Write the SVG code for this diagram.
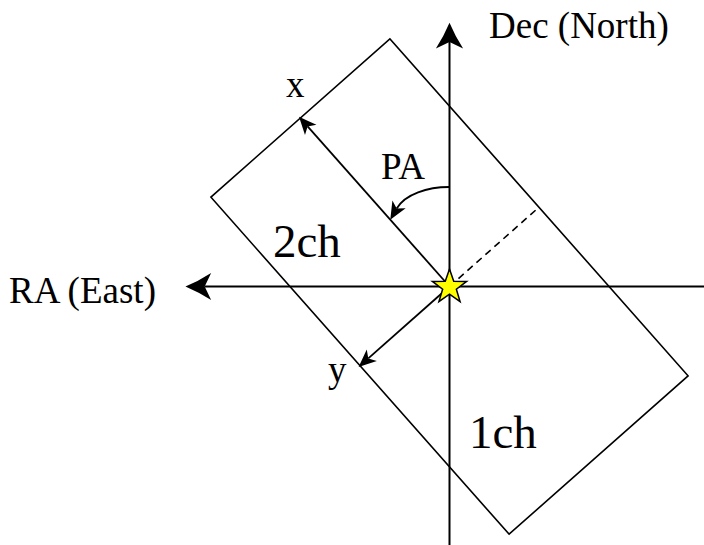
<svg xmlns="http://www.w3.org/2000/svg" width="704" height="545" viewBox="0 0 704 545">
<style>
text{font-family:"Liberation Serif","Times New Roman",serif;fill:#000}
.lbl{font-size:37px}
.ch{font-size:47px}
.ax{stroke:#000;stroke-width:2;fill:none}
.ar{stroke:#000;stroke-width:1.8;fill:none}
</style>
<defs>
<marker id="big" markerUnits="userSpaceOnUse" markerWidth="30" markerHeight="30" viewBox="-1 -14 27 28" refX="6" refY="0" orient="auto" overflow="visible">
<path d="M24,0 Q12,-5 0,-12.7 L6,0 L0,12.7 Q12,5 24,0 Z" fill="#000"/>
</marker>
<marker id="sm" markerUnits="userSpaceOnUse" markerWidth="20" markerHeight="20" viewBox="-1 -8 17 16" refX="4" refY="0" orient="auto" overflow="visible">
<path d="M15,0 Q8,-3 0,-6.5 L4,0 L0,6.5 Q8,3 15,0 Z" fill="#000"/>
</marker>
</defs>
<g id="frame">
<rect x="330" y="61.5" width="239" height="450" transform="rotate(-41.5 449.5 286.5)" fill="none" stroke="#000" stroke-width="1.6"/>
</g>
<g id="connectors">
<line class="ax" x1="449.5" y1="545" x2="449.5" y2="42" marker-end="url(#big)"/>
<line class="ax" x1="704" y1="286.5" x2="204.7" y2="286.5" marker-end="url(#big)"/>
<line class="ar" x1="449.5" y1="286.5" x2="307.6" y2="126.4" marker-end="url(#sm)"/>
<line class="ar" x1="449.5" y1="286.5" x2="368.3" y2="358.4" stroke-width="2" marker-end="url(#sm)"/>
<line x1="449.5" y1="286.5" x2="538.9" y2="207.3" stroke="#000" stroke-width="1.6" stroke-dasharray="7,5"/>
<path class="ar" d="M449,187 C428,187 405,194 396.7,208.5" stroke-width="1.6" marker-end="url(#sm)"/>
</g>
<g id="star">
<polygon transform="translate(449.5 287)" points="0,-18 4.23,-5.82 17.12,-5.56 6.85,2.22 10.58,14.56 0,7.2 -10.58,14.56 -6.85,2.22 -17.12,-5.56 -4.23,-5.82" fill="#ffff00" stroke="#000" stroke-width="1.5" stroke-linejoin="miter"/>
</g>
<g id="labels">
<text class="lbl" x="489" y="38">Dec (North)</text>
<text class="lbl" x="9" y="303">RA (East)</text>
<text class="lbl" x="286" y="97">x</text>
<text class="lbl" x="328" y="382">y</text>
<text class="lbl" x="381" y="179">PA</text>
<text class="ch" x="273" y="257">2ch</text>
<text class="ch" x="469" y="448">1ch</text>
</g>
</svg>
